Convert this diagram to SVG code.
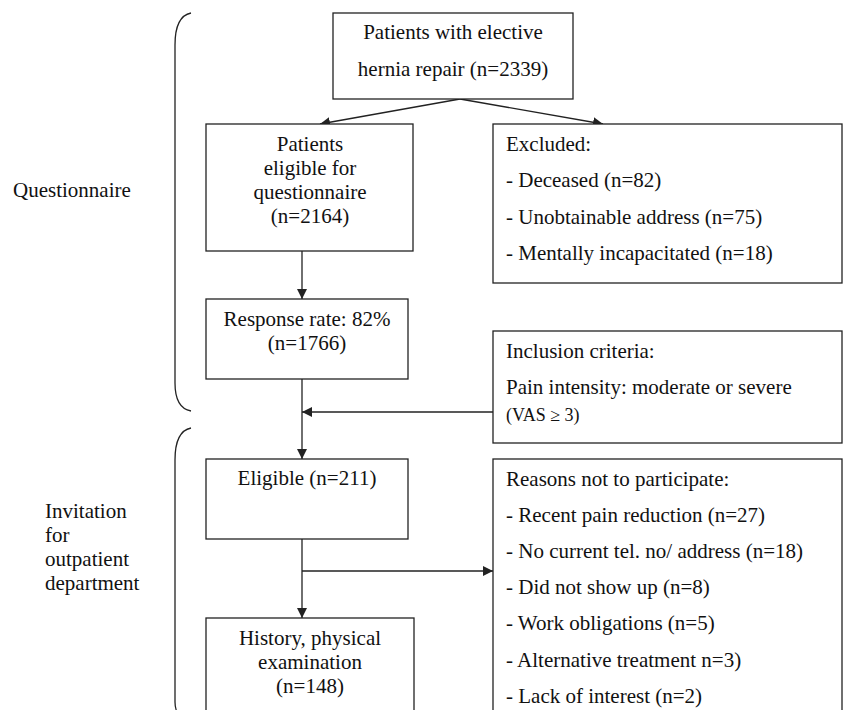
<svg xmlns="http://www.w3.org/2000/svg" width="844" height="710" viewBox="0 0 844 710">
<defs>
<style>
.box{fill:#fff;stroke:#222;stroke-width:1.3}
.t{font-family:"Liberation Serif","Times New Roman",serif;font-size:21px;fill:#111}
.c{text-anchor:middle}
.s{font-size:18px}
.ln{fill:none;stroke:#222;stroke-width:1.3}
.br{fill:none;stroke:#222;stroke-width:1.3}
</style>
<marker id="ah" viewBox="0 0 10 10" refX="10" refY="5" markerWidth="10" markerHeight="10" markerUnits="userSpaceOnUse" orient="auto">
<path d="M0,0 L10,5 L0,10 z" fill="#222"/>
</marker>
</defs>
<rect width="844" height="710" fill="#fff"/>

<g id="bracket-questionnaire">
<path class="br" d="M191,13 C181,15 175,25 175,45 L175,383 C175,400 180,409 191,411"/>
<text class="t" x="13" y="197">Questionnaire</text>
</g>
<g id="bracket-invitation">
<path class="br" d="M191,428 C181,430 175,440 175,460 L175,702 C175,712 180,720 191,722"/>
<text class="t" x="45" y="518">Invitation</text>
<text class="t" x="45" y="542">for</text>
<text class="t" x="45" y="566">outpatient</text>
<text class="t" x="45" y="590">department</text>
</g>

<g id="connectors">
<path class="ln" d="M460,99 L320,124" marker-end="url(#ah)"/>
<path class="ln" d="M460,99 L603,124" marker-end="url(#ah)"/>
<path class="ln" d="M302,251 L302,299" marker-end="url(#ah)"/>
<path class="ln" d="M302,379 L302,459" marker-end="url(#ah)"/>
<path class="ln" d="M493,412 L302,412" marker-end="url(#ah)"/>
<path class="ln" d="M302,539 L302,618" marker-end="url(#ah)"/>
<path class="ln" d="M302,571 L493,571" marker-end="url(#ah)"/>
</g>

<g id="node-patients">
<rect class="box" x="333" y="13" width="240" height="86"/>
<text class="t c" x="453" y="39">Patients with elective</text>
<text class="t c" x="453" y="76">hernia repair (n=2339)</text>
</g>

<g id="node-eligible-questionnaire">
<rect class="box" x="206" y="124" width="207" height="127"/>
<text class="t c" x="310" y="151">Patients</text>
<text class="t c" x="310" y="175">eligible for</text>
<text class="t c" x="310" y="199">questionnaire</text>
<text class="t c" x="310" y="223">(n=2164)</text>
</g>

<g id="node-excluded">
<rect class="box" x="493" y="124" width="349" height="159"/>
<text class="t" x="506" y="151">Excluded:</text>
<text class="t" x="506" y="187">- Deceased (n=82)</text>
<text class="t" x="506" y="224">- Unobtainable address (n=75)</text>
<text class="t" x="506" y="260">- Mentally incapacitated (n=18)</text>
</g>

<g id="node-response">
<rect class="box" x="206" y="299" width="202" height="80"/>
<text class="t c" x="307" y="326">Response rate: 82%</text>
<text class="t c" x="307" y="350">(n=1766)</text>
</g>

<g id="node-inclusion">
<rect class="box" x="493" y="331" width="349" height="112"/>
<text class="t" x="506" y="358">Inclusion criteria:</text>
<text class="t" x="506" y="394">Pain intensity: moderate or severe</text>
<text class="t s" x="506" y="421">(VAS ≥ 3)</text>
</g>

<g id="node-eligible">
<rect class="box" x="206" y="459" width="202" height="80"/>
<text class="t c" x="307" y="485">Eligible (n=211)</text>
</g>

<g id="node-reasons">
<rect class="box" x="493" y="459" width="349" height="270"/>
<text class="t" x="506" y="486">Reasons not to participate:</text>
<text class="t" x="506" y="522">- Recent pain reduction (n=27)</text>
<text class="t" x="506" y="558">- No current tel. no/ address (n=18)</text>
<text class="t" x="506" y="594">- Did not show up (n=8)</text>
<text class="t" x="506" y="630">- Work obligations (n=5)</text>
<text class="t" x="506" y="667">- Alternative treatment n=3)</text>
<text class="t" x="506" y="703">- Lack of interest (n=2)</text>
</g>

<g id="node-history">
<rect class="box" x="206" y="618" width="208" height="110"/>
<text class="t c" x="310" y="645">History, physical</text>
<text class="t c" x="310" y="669">examination</text>
<text class="t c" x="310" y="693">(n=148)</text>
</g>
</svg>
